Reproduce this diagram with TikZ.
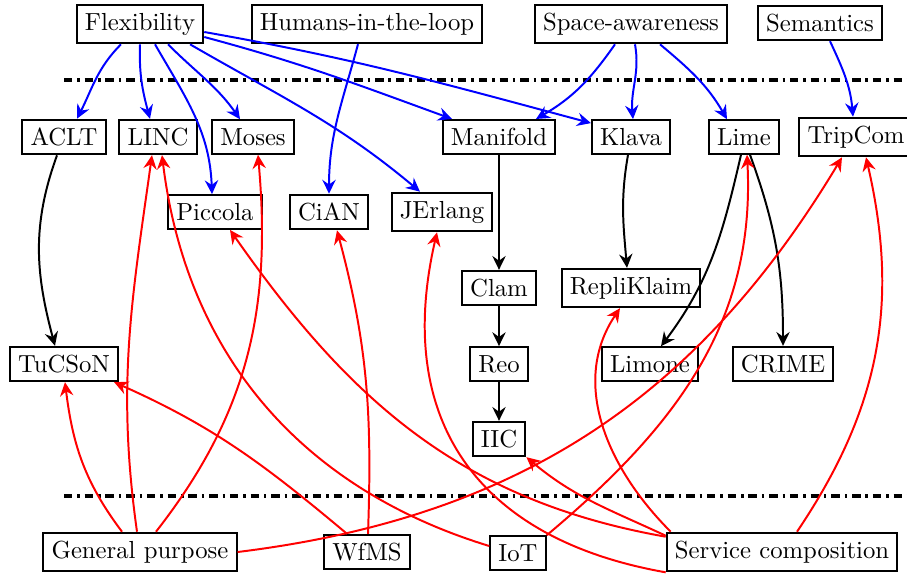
\documentclass[tikz,border=0pt]{standalone}
\usetikzlibrary{arrows.meta,calc}
\begin{document}
\begin{tikzpicture}[x=0.405pt,y=0.405pt,
  box/.style={draw,thick,rectangle,inner sep=3.33pt},
  arr/.style={thick,-{Stealth[length=5.6pt,width=5.4pt,inset=1.9pt]}},
  bl/.style={arr,blue},
  rd/.style={arr,red},
  bk/.style={arr,black},
  sep/.style={line width=1.4pt,dash pattern=on 3.4pt off 2pt on 1pt off 2pt}]
\useasboundingbox (0,0) rectangle (907,-573);
% nodes
\node[box] (Flex) at (140,-24) {Flexibility};
\node[box] (Hum) at (367,-24) {Humans-in-the-loop};
\node[box] (Space) at (631,-24) {Space-awareness};
\node[box] (Sem) at (820,-23) {Semantics};
\node[box] (ACLT) at (64,-137) {ACLT};
\node[box] (LINC) at (158,-137) {LINC};
\node[box] (Moses) at (253,-137) {Moses};
\node[box] (Manifold) at (499,-137) {Manifold};
\node[box] (Klava) at (631,-137) {Klava};
\node[box] (Lime) at (744,-137) {Lime};
\node[box] (TripCom) at (856,-137) {TripCom};
\node[box] (Piccola) at (215,-212) {Piccola};
\node[box] (CiAN) at (329,-212) {CiAN};
\node[box] (JErlang) at (442,-212) {JErlang};
\node[box] (Clam) at (499,-288) {Clam};
\node[box] (RepliKlaim) at (631,-288) {RepliKlaim};
\node[box] (TuCSoN) at (64,-364) {TuCSoN};
\node[box] (Reo) at (499,-364) {Reo};
\node[box] (Limone) at (650,-364) {Limone};
\node[box] (CRIME) at (783,-364) {CRIME};
\node[box] (IIC) at (499,-439) {IIC};
\node[box] (GP) at (140,-552) {General purpose};
\node[box] (WfMS) at (367,-552) {WfMS};
\node[box] (IoT) at (518,-553) {IoT};
\node[box] (SC) at (782,-552) {Service composition};
% separators
\coordinate (d1a) at (64,-80);
\coordinate (d1b) at (907,-80);
\coordinate (d2a) at (64,-496);
\coordinate (d2b) at (907,-496);
\draw[sep] (d1a) -- (d1b);
\draw[sep] (d2a) -- (d2b);
% blue
\draw[bl] ($(Flex.south)+(-19,0)$) to[out=-135,in=63] ($(ACLT.north)+(13,0)$);
\draw[bl] (Flex.south) to[out=-92,in=105] ($(LINC.north)+(-8,0)$);
\draw[bl] ($(Flex.south)+(15,0)$) to[out=-60,in=92] ($(Piccola.north)+(-3,0)$);
\draw[bl] ($(Flex.south)+(28,0)$) to[out=-45,in=125] ($(Moses.north)+(-13,0)$);
\draw[bl] ($(Flex.south)+(50,0)$) to[out=-30,in=140] ($(JErlang.north)+(-22,0)$);
\draw[bl] ($(Flex.east)+(0,-13)$) to[out=-15,in=160] ($(Manifold.north)+(-47,0)$);
\draw[bl] ($(Flex.east)+(0,-8)$) to[out=-10,in=165] ($(Klava.north west)+(0,-4)$);
\draw[bl] ($(Hum.south)+(-9,0)$) to[out=-105,in=90] (CiAN.north);
\draw[bl] ($(Space.south)+(-16,0)$) to[out=-125,in=30] ($(Manifold.north)+(37,0)$);
\draw[bl] ($(Space.south)+(4,0)$) to[out=-80,in=95] ($(Klava.north)+(2,0)$);
\draw[bl] ($(Space.south)+(29,0)$) to[out=-40,in=120] ($(Lime.north)+(-17,0)$);
\draw[bl] ($(Sem.south)+(10,0)$) to[out=-65,in=95] ($(TripCom.north)+(-3,0)$);
% black
\draw[bk] ($(ACLT.south)+(-7,0)$) to[out=-110,in=105] ($(TuCSoN.north)+(-9,0)$);
\draw[bk] (Manifold) -- (Clam);
\draw[bk] (Clam) -- (Reo);
\draw[bk] (Reo) -- (IIC);
\draw[bk] ($(Klava.south)+(-3,0)$) to[out=-100,in=95] ($(RepliKlaim.north)+(-4,0)$);
\draw[bk] ($(Lime.south)+(-3,0)$) to[out=-103,in=53] ($(Limone.north)+(11,0)$);
\draw[bk] ($(Lime.south)+(6,0)$) to[out=-70,in=90] (CRIME.north);
% red
\draw[rd] ($(GP.north)+(-18,0)$) to[out=127,in=-83] ($(TuCSoN.south)+(1,0)$);
\draw[rd] ($(GP.north)+(-3,0)$) to[out=98,in=-98] ($(LINC.south)+(-6,0)$);
\draw[rd] ($(GP.north)+(16,0)$) to[out=52,in=-85] ($(Moses.south)+(5,0)$);
\draw[rd] (GP.east) to[out=7,in=-121] ($(TripCom.south)+(-14,0)$);
\draw[rd] ($(WfMS.north)+(-20,0)$) to[out=140,in=-24] ($(TuCSoN.south east)+(-5,0)$);
\draw[rd] ($(WfMS.north)+(1,0)$) to[out=88,in=-75] ($(CiAN.south)+(8,0)$);
\draw[rd] ($(IoT.west)+(0,7)$) to[out=163,in=-83] ($(LINC.south)+(4,0)$);
\draw[rd] (IoT.north east) to[out=40,in=-87] ($(Lime.south)+(3,0)$);
\draw[rd] ($(SC.north west)+(0,-5)$) to[out=170,in=-55] ($(Piccola.south)+(15,0)$);
\draw[rd] (SC.south west) to[out=170,in=-103,looseness=1.2] ($(JErlang.south)+(-5,0)$);
\draw[rd] ($(SC.north west)+(0,-4)$) to[out=155,in=-40] (IIC.south east);
\draw[rd] ($(SC.north west)+(5,0)$) to[out=135,in=-124] ($(RepliKlaim.south)+(-11,0)$);
\draw[rd] ($(SC.north)+(15,0)$) to[out=56,in=-77] ($(TripCom.south)+(10,0)$);
\end{tikzpicture}
\end{document}
